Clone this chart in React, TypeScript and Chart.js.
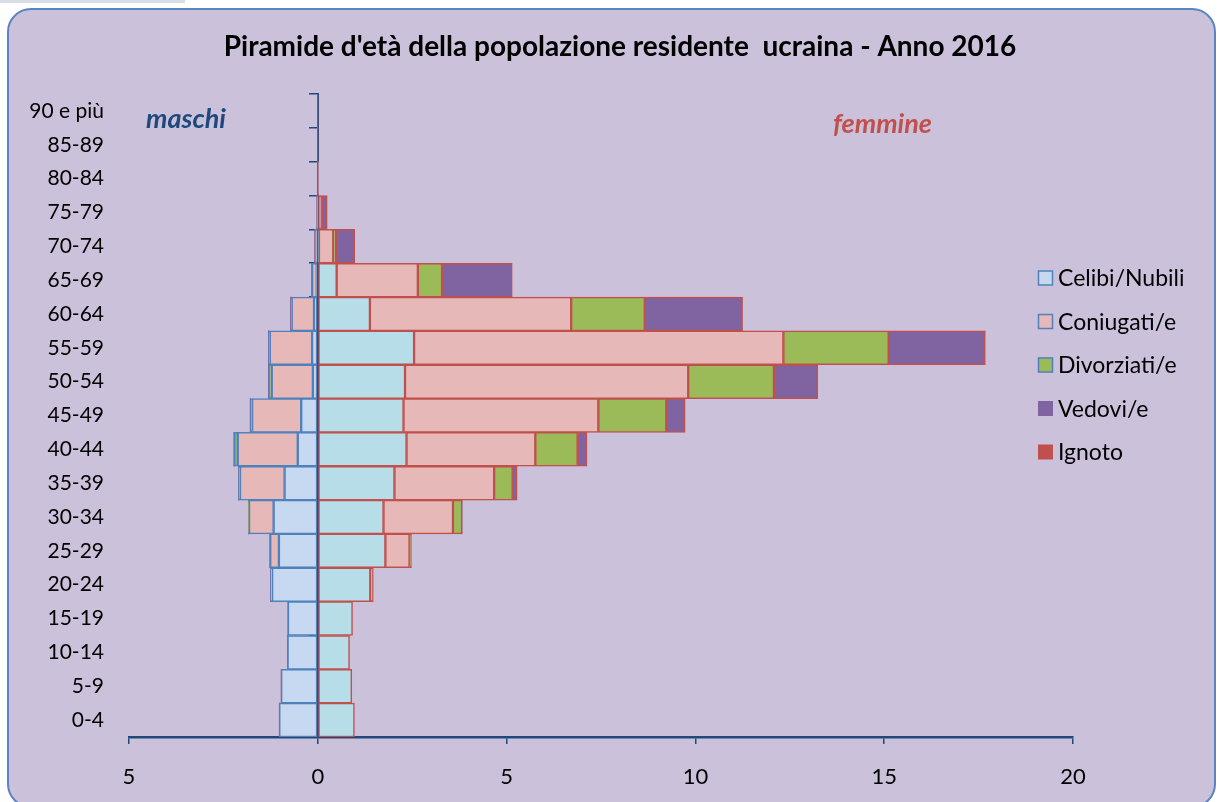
import React, { useEffect, useRef } from 'react';
import { Chart, registerables } from 'chart.js';

Chart.register(...registerables);

const FONT = 'Lato, "Open Sans", "DejaVu Sans", sans-serif';

const titleText = "Piramide d'età della popolazione residente  ucraina - Anno 2016";

const ageGroups = [
  '90 e più', '85-89', '80-84', '75-79', '70-74', '65-69', '60-64', '55-59', '50-54',
  '45-49', '40-44', '35-39', '30-34', '25-29', '20-24', '15-19', '10-14', '5-9', '0-4',
];

// Maschi (percent values, drawn to the left)
const maleCelibi = [0, 0, 0, 0.01, 0.02, 0.03, 0.1, 0.15, 0.13, 0.44, 0.53, 0.88, 1.17, 1.03, 1.21, 0.79, 0.8, 0.97, 1.02];
const maleConiugati = [0, 0, 0, 0.02, 0.05, 0.12, 0.59, 1.12, 1.09, 1.3, 1.59, 1.18, 0.65, 0.23, 0.04, 0, 0, 0, 0];
const maleDivorziati = [0, 0, 0, 0, 0, 0.01, 0.02, 0.03, 0.08, 0.04, 0.09, 0.04, 0.02, 0.01, 0, 0, 0, 0, 0];
const maleVedovi = [0, 0, 0, 0, 0.01, 0.01, 0.01, 0.01, 0.01, 0.01, 0.01, 0, 0, 0, 0, 0, 0, 0, 0];
const maleIgnoto = [0, 0, 0, 0, 0, 0, 0, 0, 0, 0, 0, 0, 0, 0, 0, 0, 0, 0, 0];

// Femmine (percent values, drawn to the right)
const femNubili = [0, 0, 0, 0, 0.03, 0.5, 1.38, 2.55, 2.31, 2.27, 2.35, 2.03, 1.74, 1.79, 1.39, 0.92, 0.84, 0.9, 0.97];
const femConiugate = [0, 0, 0.01, 0.1, 0.38, 2.15, 5.33, 9.78, 7.5, 5.16, 3.41, 2.64, 1.84, 0.64, 0.08, 0, 0, 0, 0];
const femDivorziate = [0, 0, 0, 0, 0.07, 0.64, 1.95, 2.79, 2.27, 1.8, 1.12, 0.49, 0.24, 0.03, 0, 0, 0, 0, 0];
const femVedove = [0, 0, 0.01, 0.15, 0.5, 1.86, 2.59, 2.54, 1.16, 0.5, 0.25, 0.12, 0.01, 0, 0, 0, 0, 0, 0];
const femIgnoto = [0, 0, 0, 0, 0, 0, 0, 0.02, 0, 0, 0, 0, 0, 0.02, 0, 0, 0, 0, 0];

const seriesLabels = ['Celibi/Nubili', 'Coniugati/e', 'Divorziati/e', 'Vedovi/e', 'Ignoto'];

const xMin = -5;
const xMax = 20;
const xStep = 5;

const BLUE = '#4f81bd';
const RED = '#c0504d';
const AXIS = '#1f497d';

const overlayPlugin = {
  id: 'overlay',
  afterDraw(chart: any) {
    const ctx = chart.ctx;
    ctx.save();
    // title
    ctx.textBaseline = 'middle';
    ctx.textAlign = 'center';
    ctx.fillStyle = '#000';
    ctx.font = `bold 28px ${FONT}`;
    ctx.fillText(titleText, 620, 47);

    ctx.textAlign = 'left';
    ctx.font = `italic bold 27px ${FONT}`;
    ctx.fillStyle = AXIS;
    ctx.fillText('maschi', 146, 119);
    ctx.fillStyle = RED;
    ctx.fillText('femmine', 833, 124);

    // legend (male datasets represent the categories)
    const ds = chart.data.datasets.slice(0, 5);
    ds.forEach((d: any, i: number) => {
      const y = 278 + i * 43.5;
      ctx.fillStyle = d.backgroundColor;
      ctx.fillRect(1038, y - 7.5, 15, 15);
      if (d.borderWidth > 0) {
        ctx.strokeStyle = d.borderColor;
        ctx.lineWidth = 1.5;
        ctx.strokeRect(1038.5, y - 7, 14, 14);
      }
      ctx.fillStyle = '#000';
      ctx.font = `23px ${FONT}`;
      ctx.fillText(d.label, 1058, y + 1);
    });
    ctx.restore();
  },
};

export default function App() {
  const ref = useRef<HTMLCanvasElement | null>(null);

  useEffect(() => {
    if (!ref.current) return;
    const neg = (a: number[]) => a.map((v) => -v);
    const common = { borderSkipped: false, barPercentage: 1, categoryPercentage: 1 };
    const datasets: any[] = [
      { label: seriesLabels[0], data: neg(maleCelibi), backgroundColor: '#c6d9f1', borderColor: BLUE, borderWidth: 1.5, ...common },
      { label: seriesLabels[1], data: neg(maleConiugati), backgroundColor: '#e6b9b8', borderColor: BLUE, borderWidth: 1.5, ...common },
      { label: seriesLabels[2], data: neg(maleDivorziati), backgroundColor: '#9bbb59', borderColor: BLUE, borderWidth: 1.5, ...common },
      { label: seriesLabels[3], data: neg(maleVedovi), backgroundColor: '#8064a2', borderColor: '#8064a2', borderWidth: 0, ...common },
      { label: seriesLabels[4], data: neg(maleIgnoto), backgroundColor: RED, borderColor: RED, borderWidth: 0, ...common },
      { label: seriesLabels[0], data: femNubili, backgroundColor: '#b7dee8', borderColor: RED, borderWidth: 1.5, ...common },
      { label: seriesLabels[1], data: femConiugate, backgroundColor: '#e6b9b8', borderColor: RED, borderWidth: 1.5, ...common },
      { label: seriesLabels[2], data: femDivorziate, backgroundColor: '#9bbb59', borderColor: RED, borderWidth: 1.5, ...common },
      { label: seriesLabels[3], data: femVedove, backgroundColor: '#8064a2', borderColor: RED, borderWidth: 1.5, ...common },
      { label: seriesLabels[4], data: femIgnoto, backgroundColor: RED, borderColor: RED, borderWidth: 1.5, ...common },
    ];

    const chart = new Chart(ref.current, {
      type: 'bar',
      data: { labels: ageGroups, datasets },
      options: {
        indexAxis: 'y',
        animation: false,
        responsive: false,
        maintainAspectRatio: false,
        layout: { padding: { left: 0, right: 147, top: 94, bottom: 0 } },
        plugins: {
          legend: { display: false },
          tooltip: { enabled: false },
          title: { display: false },
        },
        scales: {
          x: {
            type: 'linear',
            stacked: true,
            min: xMin,
            max: xMax,
            afterFit: (s: any) => { s.height = 65; },
            ticks: {
              stepSize: xStep,
              color: '#000',
              padding: 20,
              font: { family: FONT, size: 22 },
              callback: (v: any) => String(Math.abs(Number(v))),
            },
            grid: { drawOnChartArea: false, drawTicks: true, tickLength: 7, color: AXIS, lineWidth: 1.5 },
            border: { display: true, color: AXIS, width: 2.5 },
          },
          y: {
            type: 'category',
            stacked: true,
            afterFit: (s: any) => { s.width = 129; },
            ticks: { color: '#000', padding: 17, font: { family: FONT, size: 21 } },
            grid: { display: false },
            border: { display: false },
          },
          y2: {
            type: 'category',
            labels: ageGroups,
            position: { x: 0 } as any,
            offset: true,
            z: 1,
            ticks: { display: false },
            grid: { offset: true, drawOnChartArea: false, drawTicks: true, tickLength: 8, color: AXIS, lineWidth: 1.5 },
            border: { display: true, color: AXIS, width: 2 },
          },
        },
      },
      plugins: [overlayPlugin],
    } as any);

    return () => chart.destroy();
  }, []);

  return (
    <div style={{ position: 'absolute', left: 0, top: 0, width: 1220, height: 802, overflow: 'hidden' }}>
      <div style={{ position: 'absolute', left: 0, top: 0, width: 185, height: 3, background: '#d9dee6' }} />
      <div
        style={{
          position: 'absolute',
          left: 7,
          top: 8,
          width: 1209,
          height: 800,
          boxSizing: 'border-box',
          border: '2px solid #5b84c4',
          borderRadius: 24,
          background: '#ccc1da',
        }}
      />
      <canvas ref={ref} width={1220} height={802} style={{ position: 'absolute', left: 0, top: 0, width: 1220, height: 802 }} />
    </div>
  );
}
